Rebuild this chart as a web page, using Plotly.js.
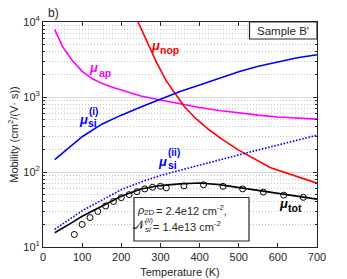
<!DOCTYPE html>
<html>
<head>
<meta charset="utf-8">
<script src="https://cdn.plot.ly/plotly-3.0.1.min.js"></script>
<style>html,body{margin:0;padding:0;background:#fff;}#chart{width:347px;height:279px;}</style>
</head>
<body>
<div id="chart"></div>
<script>
// ---- data ----
const T_grid = [30,50,75,100,150,200,250,300,350,400,450,500,550,600,650,700];
const mu_si_i = [146,180,234,295,434,573,734,940,1186,1449,1771,2168,2565,2951,3337,3664];
const mu_si_ii = [17.2,20.4,24.9,30.4,42.1,58.2,73.4,89.8,105.4,124,145,169,197,230,269,309];

const T_ap = [30,50,75,100,125,150,175,200,250,300,350,400,450,500,550,600,650,700];
const mu_ap = [7900,4700,3040,2200,1760,1520,1360,1240,1030,910,805,725,660,610,573,542,522,507];

const T_nop = [240,265,290,315,335,360,390,425,455,500,580,700];
const mu_nop = [10800,5560,2900,1640,1150,757,518,363,279,196,115,71];

const T_tot = [30,50,75,100,125,150,175,200,250,300,350,400,450,500,550,600,650,700];
const mu_tot = [15.5,17.7,21.3,25.7,30.0,35.0,40.8,47.6,59.2,65.9,69.5,71.2,67.9,61.9,57.3,52.2,47.6,43.5];

const T_exp = [80,100,120,140,160,180,200,220,240,260,280,300,315,360,410,460,510,563,615,665];
const mu_exp = [14.7,20.0,24.7,29.8,35.2,40.4,45.5,49.9,54.7,59.5,62.5,64.4,61.4,65.3,67.6,64.4,59.5,53.9,49.1,45.9];

const xTicks = [0,100,200,300,400,500,600,700];
const yTickVals = [10,100,1000,10000];
const yTickText = ['10<sup>1</sup>','10<sup>2</sup>','10<sup>3</sup>','10<sup>4</sup>'];
const yMinorVals = [];
[10,100,1000].forEach(d => { for (let k=2;k<=9;k++) yMinorVals.push(k*d); });

// ---- styling ----
const FONT = 'Liberation Sans, Arial, Helvetica, sans-serif';
const AX = '#262626';
const MAG = '#ff00ff', RED = '#ff0000', BLUE = '#0000ff', BLK = '#000000';

const traces = [
  {x:T_ap, y:mu_ap, mode:'lines', line:{color:MAG, width:1.6}, hoverinfo:'skip'},
  {x:T_nop, y:mu_nop, mode:'lines', line:{color:RED, width:1.6}, hoverinfo:'skip'},
  {x:T_grid, y:mu_si_i, mode:'lines', line:{color:BLUE, width:1.6}, hoverinfo:'skip'},
  {x:T_grid, y:mu_si_ii, mode:'lines', line:{color:BLUE, width:1.6, dash:'1.6px,1.6px'}, hoverinfo:'skip'},
  {x:T_tot, y:mu_tot, mode:'lines', line:{color:BLK, width:1.6}, hoverinfo:'skip'},
  {x:T_exp, y:mu_exp, mode:'markers', marker:{symbol:'circle-open', size:6, color:BLK, line:{width:1, color:BLK}}, hoverinfo:'skip'}
];

// pixel -> paper helpers (plot area: x 43..317, y 22..247)
const L=43, R=30, TOP=22, B=32, W=347, H=279;
const pw = W-L-R, ph = H-TOP-B;
const px = x => (x-L)/pw;
const py = y => (H-B-y)/ph;

function ann(text, x, y, size, color, opts) {
  return Object.assign({xref:'paper', yref:'paper', x:px(x), y:py(y), text:text, showarrow:false,
    xanchor:'center', yanchor:'middle', font:{family:FONT, size:size, color:color}, borderpad:0}, opts||{});
}

const annotations = [
  ann('b)', 53, 13, 12, AX),
  ann('Sample B\'', 283, 30.5, 11.5, AX),
  // mu_ap
  ann('<b><i>μ</i></b>', 93.5, 67.5, 13, MAG),
  ann('<b>ap</b>', 104.5, 73, 10.5, MAG),
  // mu_nop
  ann('<b><i>μ</i></b>', 155.3, 45.5, 13, RED),
  ann('<b>nop</b>', 169.5, 49.5, 10.5, RED),
  // mu_si(i)
  ann('<b><i>μ</i></b>', 83.3, 119.5, 13, BLUE),
  ann('<b>(i)</b>', 93.3, 111.5, 10, BLUE),
  ann('<b>si</b>', 92.5, 123, 10.5, BLUE),
  // mu_si(ii)
  ann('<b><i>μ</i></b>', 162.5, 161, 13, BLUE),
  ann('<b>(ii)</b>', 173.8, 152.5, 10, BLUE),
  ann('<b>si</b>', 172.3, 164.5, 10.5, BLUE),
  // mu_tot
  ann('<b><i>μ</i></b>', 283.7, 203.5, 13, BLK),
  ann('<b>tot</b>', 294.5, 208, 10.5, BLK),
  // parameter box text
  ann('<i>ρ</i>', 140, 209.5, 11, AX),
  ann('2D', 148.5, 212.5, 8, AX),
  ann('= 2.4e12 cm<sup>-2</sup>,', 155, 209.5, 11, AX, {xanchor:'left'}),
  ann('𝒩', 139.5, 224.5, 11.5, AX),
  ann('<i>(ii)</i>', 148.5, 221, 7, AX),
  ann('<i>si</i>', 147.5, 229, 8, AX),
  ann('= 1.4e13 cm<sup>-2</sup>', 152, 226, 11, AX, {xanchor:'left'})
];

const shapes = [
  {type:'rect', xref:'paper', yref:'paper', x0:px(249.5), x1:1, y0:py(39), y1:1,
   line:{color:AX, width:1.2}, fillcolor:'#ffffff', layer:'above'},
  {type:'rect', xref:'paper', yref:'paper', x0:px(134), x1:px(249), y0:py(241), y1:py(197.5),
   line:{color:AX, width:1.2}, fillcolor:'#ffffff', layer:'above'}
];

const layout = {
  width:W, height:H,
  margin:{l:L, r:R, t:TOP, b:B, pad:0},
  paper_bgcolor:'#ffffff', plot_bgcolor:'#ffffff',
  showlegend:false,
  font:{family:FONT, size:11, color:AX},
  xaxis:{
    range:[0,700], tickmode:'array', tickvals:xTicks,
    ticks:'inside', ticklen:4, tickwidth:1, tickcolor:AX,
    showline:true, linecolor:AX, linewidth:1, mirror:'allticks',
    showgrid:false, zeroline:false,
    tickfont:{family:FONT, size:11, color:AX},
    title:{text:'Temperature (K)', font:{family:FONT, size:11, color:AX}, standoff:6}
  },
  yaxis:{
    type:'log', range:[1,4], tickmode:'array', tickvals:yTickVals, ticktext:yTickText,
    ticks:'inside', ticklen:4, tickwidth:1, tickcolor:AX,
    showline:true, linecolor:AX, linewidth:1, mirror:'allticks',
    showgrid:true, gridcolor:'#d9d9d9', gridwidth:1, zeroline:false,
    tickfont:{family:FONT, size:11, color:AX},
    title:{text:'Mobility (cm<sup>2</sup>/(V· s))', font:{family:FONT, size:11, color:AX}, standoff:2},
    minor:{tickmode:'array', tickvals:yMinorVals, ticks:'inside', ticklen:2, tickcolor:AX,
           showgrid:true, gridcolor:'#c4c4c4', griddash:'1px,2px', gridwidth:1}
  },
  annotations:annotations,
  shapes:shapes
};

Plotly.newPlot('chart', traces, layout, {staticPlot:true, displayModeBar:false});
</script>
</body>
</html>
